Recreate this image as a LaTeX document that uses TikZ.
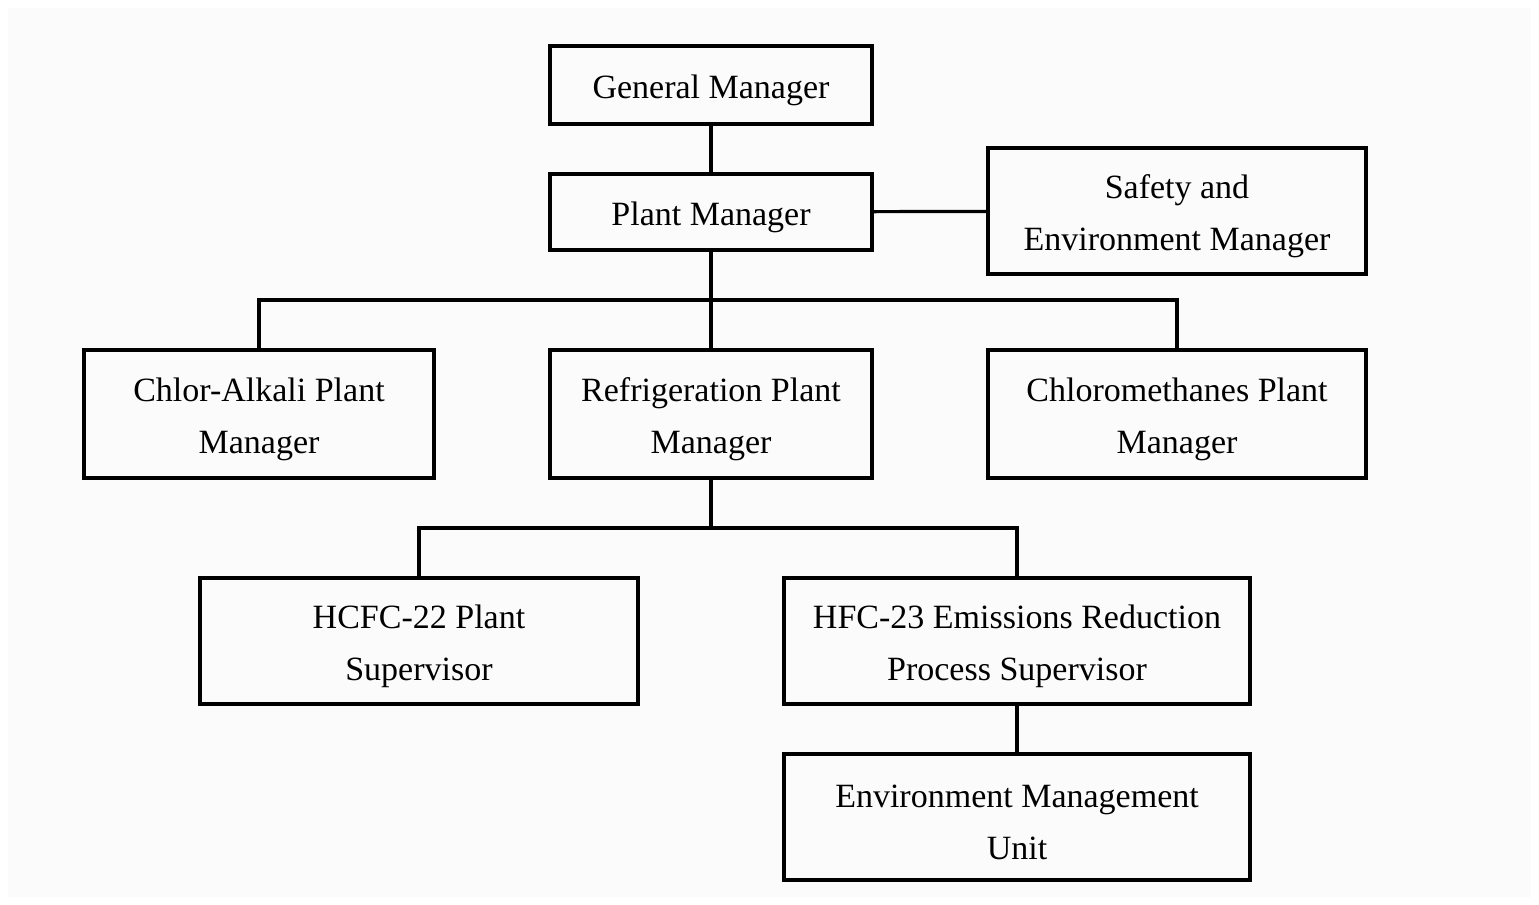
\documentclass[tikz,border=0pt]{standalone}
\usepackage{fontspec}
\setmainfont{Liberation Serif}
\definecolor{paper}{HTML}{FBFBFB}
\newcommand{\lift}{\rule{0pt}{17pt}}
\begin{document}
\begin{tikzpicture}[x=0.5pt, y=-0.5pt,
	box/.style={draw, line width=2pt, align=center, inner sep=0pt,
		font=\fontsize{17}{26}\selectfont},
	link/.style={line width=1.6pt}]
	\useasboundingbox (0, 0) rectangle (1539, 905);
	\fill[white] (0, 0) rectangle (1539, 905);
	\fill[paper] (8, 8) rectangle (1531, 897);
	% top of the chart
	\node[box, minimum width=161pt, minimum height=39pt] (gm) at (711, 85) {\lift General Manager};
	\node[box, minimum width=161pt, minimum height=38pt] (pm) at (711, 212) {\lift Plant Manager};
	\node[box, minimum width=189pt, minimum height=63pt] (safety) at (1177, 211) {\lift Safety and\\Environment Manager};
	% plants
	\node[box, minimum width=175pt, minimum height=64pt] (chlor) at (259, 414) {\lift Chlor-Alkali Plant\\Manager};
	\node[box, minimum width=161pt, minimum height=64pt] (refrig) at (711, 414) {\lift Refrigeration Plant\\Manager};
	\node[box, minimum width=189pt, minimum height=64pt] (methane) at (1177, 414) {\lift Chloromethanes Plant\\Manager};
	% supervisors
	\node[box, minimum width=219pt, minimum height=63pt] (hcfc) at (419, 641) {\lift HCFC-22 Plant\\Supervisor};
	\node[box, minimum width=233pt, minimum height=63pt] (hfc) at (1017, 641) {\lift HFC-23 Emissions Reduction\\Process Supervisor};
	\node[box, minimum width=233pt, minimum height=63pt] (emu) at (1017, 817) {\lift Environment Management\\Unit};
	% connectors
	\coordinate (bus) at (711, 300);
	\coordinate (bustwo) at (711, 528);
	\draw[link] (gm) -- (pm);
	\draw[link] (pm) -- (safety);
	\draw[link] (pm) -- (refrig);
	\draw[link] (chlor.north) |- (bus) -| (methane.north);
	\draw[link] (refrig) -- (bustwo);
	\draw[link] (hcfc.north) |- (bustwo) -| (hfc.north);
	\draw[link] (hfc) -- (emu);
\end{tikzpicture}
\end{document}
